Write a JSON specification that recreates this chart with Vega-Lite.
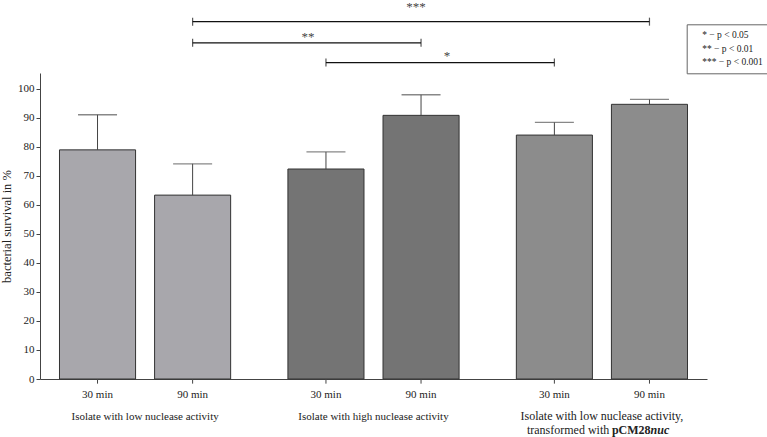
{
  "$schema": "https://vega.github.io/schema/vega-lite/v6.json",
  "width": 667,
  "height": 306,
  "autosize": {"type": "none"},
  "padding": {"left": 40, "top": 73, "right": 60, "bottom": 58},
  "background": "white",
  "config": {
    "view": {"stroke": null},
    "font": "Liberation Serif",
    "axisY": {
      "tickCount": 11,
      "grid": false,
      "tickSize": 4,
      "labelPadding": 2,
      "labelFont": "Liberation Serif",
      "labelFontSize": 11,
      "labelColor": "#222",
      "labelOverlap": false,
      "titleFont": "Liberation Serif",
      "titleFontSize": 12.5,
      "titleFontWeight": "normal",
      "titleColor": "#222",
      "titlePadding": 4,
      "domainColor": "#444",
      "tickColor": "#444"
    }
  },
  "datasets": {
    "bars": [
      {"group": "g1", "time": "30 min", "mean": 79.0, "upper": 91.1},
      {"group": "g1", "time": "90 min", "mean": 63.4, "upper": 74.2},
      {"group": "g2", "time": "30 min", "mean": 72.4, "upper": 78.3},
      {"group": "g2", "time": "90 min", "mean": 90.9, "upper": 98.0},
      {"group": "g3", "time": "30 min", "mean": 84.1, "upper": 88.5},
      {"group": "g3", "time": "90 min", "mean": 94.7, "upper": 96.4}
    ],
    "brackets": [
      {"sig": "***", "group": "g1", "time": "90 min", "y": 123.2},
      {"sig": "***", "group": "g3", "time": "90 min", "y": 123.2},
      {"sig": "**", "group": "g1", "time": "90 min", "y": 115.9},
      {"sig": "**", "group": "g2", "time": "90 min", "y": 115.9},
      {"sig": "*", "group": "g2", "time": "30 min", "y": 109.1},
      {"sig": "*", "group": "g3", "time": "30 min", "y": 109.1}
    ],
    "stars": [
      {"sig": "***", "group": "g2", "time": "90 min", "ly": 128.3},
      {"sig": "**", "group": "g2", "time": "30 min", "ly": 117.8},
      {"sig": "*", "group": "g2", "time": "90 min", "ly": 111.5}
    ]
  },
  "data": {"name": "bars"},
  "encoding": {
    "x": {
      "field": "group",
      "type": "nominal",
      "scale": {"domain": ["g1", "g2", "g3"], "paddingInner": 0.1, "paddingOuter": 0.01},
      "axis": {
        "title": null,
        "ticks": false,
        "tickSize": 0,
        "labelPadding": 31,
        "labelAngle": 0,
        "labelOverlap": false,
        "labelLimit": 300,
        "labelFont": "Liberation Serif",
        "labelFontSize": {"condition": {"test": "datum.value == 'g3'", "value": 12}, "value": 11},
        "labelColor": "#222",
        "domainColor": "#444",
        "labelExpr": "datum.value == 'g1' ? 'Isolate with low nuclease activity' : datum.value == 'g2' ? 'Isolate with high nuclease activity' : 'Isolate with low nuclease activity,'"
      }
    }
  },
  "layer": [
    {
      "mark": {"type": "bar", "stroke": "#333", "strokeWidth": 1},
      "encoding": {
        "xOffset": {"field": "time", "type": "nominal", "scale": {"domain": ["30 min", "90 min"], "paddingInner": 0.2, "paddingOuter": 0.181}},
        "y": {"field": "mean", "type": "quantitative", "title": "bacterial survival in %", "scale": {"domain": [0, 105.5], "nice": false}},
        "fill": {"field": "group", "type": "nominal", "scale": {"domain": ["g1", "g2", "g3"], "range": ["#a8a7ac", "#747474", "#8c8c8c"]}, "legend": null}
      }
    },
    {
      "mark": {"type": "rule", "color": "#444", "strokeWidth": 1},
      "encoding": {
        "xOffset": {"field": "time", "type": "nominal", "scale": {"domain": ["30 min", "90 min"], "paddingInner": 0.2, "paddingOuter": 0.181}},
        "y": {"field": "mean", "type": "quantitative", "title": "bacterial survival in %", "scale": {"domain": [0, 105.5], "nice": false}},
        "y2": {"field": "upper"}
      }
    },
    {
      "mark": {"type": "tick", "orient": "horizontal", "size": 39, "thickness": 1.3, "color": "#555"},
      "encoding": {
        "xOffset": {"field": "time", "type": "nominal", "scale": {"domain": ["30 min", "90 min"], "paddingInner": 0.2, "paddingOuter": 0.181}},
        "y": {"field": "upper", "type": "quantitative", "title": "bacterial survival in %", "scale": {"domain": [0, 105.5], "nice": false}}
      }
    },
    {
      "mark": {"type": "rule", "color": "#444", "strokeWidth": 1},
      "encoding": {
        "xOffset": {"field": "time", "type": "nominal", "scale": {"domain": ["30 min", "90 min"], "paddingInner": 0.2, "paddingOuter": 0.181}},
        "y": {"datum": 0, "type": "quantitative", "title": "bacterial survival in %", "scale": {"domain": [0, 105.5], "nice": false}},
        "y2": {"datum": -1.6}
      }
    },
    {
      "mark": {"type": "text", "dy": 16, "baseline": "middle", "fontSize": 11, "font": "Liberation Serif", "color": "#222"},
      "encoding": {
        "xOffset": {"field": "time", "type": "nominal", "scale": {"domain": ["30 min", "90 min"], "paddingInner": 0.2, "paddingOuter": 0.181}},
        "y": {"datum": 0, "type": "quantitative", "title": "bacterial survival in %", "scale": {"domain": [0, 105.5], "nice": false}},
        "text": {"field": "time"}
      }
    },
    {
      "data": {"name": "brackets"},
      "mark": {"type": "line", "strokeWidth": 1.2},
      "encoding": {
        "xOffset": {"field": "time", "type": "nominal", "scale": {"domain": ["30 min", "90 min"], "paddingInner": 0.2, "paddingOuter": 0.181}},
        "y": {"field": "y", "type": "quantitative", "title": "bacterial survival in %", "scale": {"domain": [0, 105.5], "nice": false}},
        "stroke": {
          "field": "sig",
          "type": "nominal",
          "scale": {"domain": ["*", "**", "***"], "range": ["#111", "#111", "#111"]},
          "legend": {
            "orient": "none",
            "legendX": 646.7,
            "legendY": -48.7,
            "title": null,
            "symbolSize": 0,
            "symbolOpacity": 0,
            "symbolStrokeWidth": 0,
            "labelOffset": 0,
            "padding": 6,
            "rowPadding": 2.5,
            "strokeColor": "#666",
            "labelFont": "Liberation Serif",
            "labelFontSize": 9.5,
            "labelColor": "#222",
            "labelExpr": "datum.label == '*' ? '*     − p < 0.05' : datum.label == '**' ? '**   − p < 0.01' : '*** − p < 0.001'"
          }
        }
      }
    },
    {
      "data": {"name": "brackets"},
      "mark": {"type": "tick", "orient": "vertical", "size": 8, "thickness": 1.2, "color": "#111"},
      "encoding": {
        "xOffset": {"field": "time", "type": "nominal", "scale": {"domain": ["30 min", "90 min"], "paddingInner": 0.2, "paddingOuter": 0.181}},
        "y": {"field": "y", "type": "quantitative", "title": "bacterial survival in %", "scale": {"domain": [0, 105.5], "nice": false}}
      }
    },
    {
      "data": {"name": "stars"},
      "transform": [{"filter": "datum.sig == '***'"}],
      "mark": {"type": "text", "dx": -5, "fontSize": 13, "font": "Liberation Serif", "color": "#444"},
      "encoding": {
        "xOffset": {"field": "time", "type": "nominal", "scale": {"domain": ["30 min", "90 min"], "paddingInner": 0.2, "paddingOuter": 0.181}},
        "y": {"field": "ly", "type": "quantitative", "title": "bacterial survival in %", "scale": {"domain": [0, 105.5], "nice": false}},
        "text": {"field": "sig"}
      }
    },
    {
      "data": {"name": "stars"},
      "transform": [{"filter": "datum.sig == '**'"}],
      "mark": {"type": "text", "dx": -18, "fontSize": 13, "font": "Liberation Serif", "color": "#444"},
      "encoding": {
        "xOffset": {"field": "time", "type": "nominal", "scale": {"domain": ["30 min", "90 min"], "paddingInner": 0.2, "paddingOuter": 0.181}},
        "y": {"field": "ly", "type": "quantitative", "title": "bacterial survival in %", "scale": {"domain": [0, 105.5], "nice": false}},
        "text": {"field": "sig"}
      }
    },
    {
      "data": {"name": "stars"},
      "transform": [{"filter": "datum.sig == '*'"}],
      "mark": {"type": "text", "dx": 26, "fontSize": 13, "font": "Liberation Serif", "color": "#444"},
      "encoding": {
        "xOffset": {"field": "time", "type": "nominal", "scale": {"domain": ["30 min", "90 min"], "paddingInner": 0.2, "paddingOuter": 0.181}},
        "y": {"field": "ly", "type": "quantitative", "title": "bacterial survival in %", "scale": {"domain": [0, 105.5], "nice": false}},
        "text": {"field": "sig"}
      }
    },
    {
      "data": {"values": [{"group": "g3"}]},
      "mark": {"type": "text", "text": "transformed with", "align": "left", "dx": -75, "dy": 51, "baseline": "middle", "fontSize": 12, "font": "Liberation Serif", "color": "#222"},
      "encoding": {
        "y": {"datum": 0, "type": "quantitative", "title": "bacterial survival in %", "scale": {"domain": [0, 105.5], "nice": false}}
      }
    },
    {
      "data": {"values": [{"group": "g3"}]},
      "mark": {"type": "text", "text": "pCM28", "align": "left", "dx": 10, "dy": 51, "baseline": "middle", "fontSize": 12, "fontWeight": "bold", "font": "Liberation Serif", "color": "#222"},
      "encoding": {
        "y": {"datum": 0, "type": "quantitative", "title": "bacterial survival in %", "scale": {"domain": [0, 105.5], "nice": false}}
      }
    },
    {
      "data": {"values": [{"group": "g3"}]},
      "mark": {"type": "text", "text": "nuc", "align": "left", "dx": 48.7, "dy": 51, "baseline": "middle", "fontSize": 12, "fontWeight": "bold", "fontStyle": "italic", "font": "Liberation Serif", "color": "#222"},
      "encoding": {
        "y": {"datum": 0, "type": "quantitative", "title": "bacterial survival in %", "scale": {"domain": [0, 105.5], "nice": false}}
      }
    }
  ]
}
